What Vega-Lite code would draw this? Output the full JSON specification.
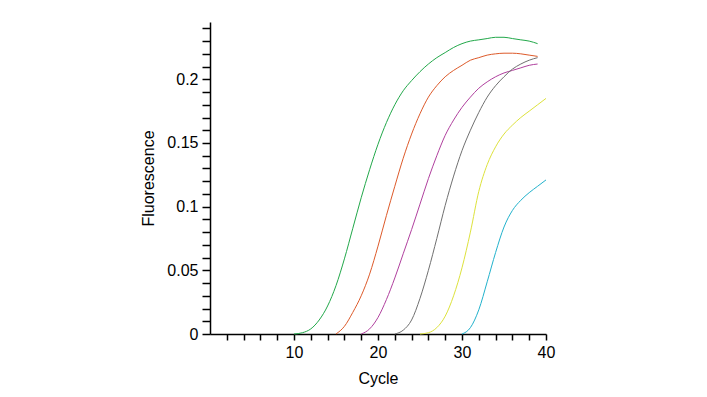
{
  "$schema": "https://vega.github.io/schema/vega-lite/v6.json",
  "width": 336,
  "height": 312,
  "autosize": {"type": "none"},
  "padding": {"left": 210, "top": 22, "right": 161, "bottom": 63},
  "background": "white",
  "config": {"view": {"stroke": null}, "font": "Liberation Sans"},
  "data": {"values": [
    {"s":"A","c":10,"f":0},{"s":"A","c":11,"f":0.001},{"s":"A","c":12,"f":0.004},{"s":"A","c":13,"f":0.011},{"s":"A","c":14,"f":0.022},{"s":"A","c":15,"f":0.038},{"s":"A","c":16,"f":0.059},{"s":"A","c":17,"f":0.083},{"s":"A","c":18,"f":0.107},{"s":"A","c":19,"f":0.129},{"s":"A","c":20,"f":0.149},{"s":"A","c":21,"f":0.166},{"s":"A","c":22,"f":0.18},{"s":"A","c":23,"f":0.191},{"s":"A","c":24,"f":0.199},{"s":"A","c":25,"f":0.206},{"s":"A","c":26,"f":0.212},{"s":"A","c":27,"f":0.217},{"s":"A","c":28,"f":0.221},{"s":"A","c":29,"f":0.225},{"s":"A","c":30,"f":0.228},{"s":"A","c":31,"f":0.23},{"s":"A","c":32,"f":0.231},{"s":"A","c":33,"f":0.232},{"s":"A","c":34,"f":0.233},{"s":"A","c":35,"f":0.233},{"s":"A","c":36,"f":0.232},{"s":"A","c":37,"f":0.231},{"s":"A","c":38,"f":0.23},{"s":"A","c":39,"f":0.228},
    {"s":"B","c":15,"f":0},{"s":"B","c":16,"f":0.006},{"s":"B","c":17,"f":0.017},{"s":"B","c":18,"f":0.03},{"s":"B","c":19,"f":0.047},{"s":"B","c":20,"f":0.069},{"s":"B","c":21,"f":0.093},{"s":"B","c":22,"f":0.116},{"s":"B","c":23,"f":0.138},{"s":"B","c":24,"f":0.157},{"s":"B","c":25,"f":0.173},{"s":"B","c":26,"f":0.186},{"s":"B","c":27,"f":0.195},{"s":"B","c":28,"f":0.202},{"s":"B","c":29,"f":0.207},{"s":"B","c":30,"f":0.211},{"s":"B","c":31,"f":0.215},{"s":"B","c":32,"f":0.217},{"s":"B","c":33,"f":0.219},{"s":"B","c":34,"f":0.22},{"s":"B","c":35,"f":0.2205},{"s":"B","c":36,"f":0.2205},{"s":"B","c":37,"f":0.22},{"s":"B","c":38,"f":0.219},{"s":"B","c":39,"f":0.218},
    {"s":"C","c":18,"f":0},{"s":"C","c":19,"f":0.004},{"s":"C","c":20,"f":0.013},{"s":"C","c":21,"f":0.027},{"s":"C","c":22,"f":0.044},{"s":"C","c":23,"f":0.063},{"s":"C","c":24,"f":0.082},{"s":"C","c":25,"f":0.102},{"s":"C","c":26,"f":0.122},{"s":"C","c":27,"f":0.14},{"s":"C","c":28,"f":0.156},{"s":"C","c":29,"f":0.168},{"s":"C","c":30,"f":0.178},{"s":"C","c":31,"f":0.186},{"s":"C","c":32,"f":0.193},{"s":"C","c":33,"f":0.198},{"s":"C","c":34,"f":0.202},{"s":"C","c":35,"f":0.205},{"s":"C","c":36,"f":0.207},{"s":"C","c":37,"f":0.209},{"s":"C","c":38,"f":0.211},{"s":"C","c":39,"f":0.212},
    {"s":"D","c":22,"f":0},{"s":"D","c":23,"f":0.003},{"s":"D","c":24,"f":0.011},{"s":"D","c":25,"f":0.028},{"s":"D","c":26,"f":0.05},{"s":"D","c":27,"f":0.075},{"s":"D","c":28,"f":0.101},{"s":"D","c":29,"f":0.124},{"s":"D","c":30,"f":0.144},{"s":"D","c":31,"f":0.16},{"s":"D","c":32,"f":0.174},{"s":"D","c":33,"f":0.186},{"s":"D","c":34,"f":0.195},{"s":"D","c":35,"f":0.202},{"s":"D","c":36,"f":0.208},{"s":"D","c":37,"f":0.212},{"s":"D","c":38,"f":0.215},{"s":"D","c":39,"f":0.217},
    {"s":"E","c":25,"f":0},{"s":"E","c":26,"f":0.001},{"s":"E","c":27,"f":0.005},{"s":"E","c":28,"f":0.014},{"s":"E","c":29,"f":0.03},{"s":"E","c":30,"f":0.052},{"s":"E","c":31,"f":0.08},{"s":"E","c":32,"f":0.112},{"s":"E","c":33,"f":0.133},{"s":"E","c":34,"f":0.147},{"s":"E","c":35,"f":0.157},{"s":"E","c":36,"f":0.164},{"s":"E","c":37,"f":0.17},{"s":"E","c":38,"f":0.175},{"s":"E","c":39,"f":0.18},{"s":"E","c":40,"f":0.185},
    {"s":"F","c":30,"f":0},{"s":"F","c":31,"f":0.005},{"s":"F","c":32,"f":0.019},{"s":"F","c":33,"f":0.041},{"s":"F","c":34,"f":0.064},{"s":"F","c":35,"f":0.084},{"s":"F","c":36,"f":0.097},{"s":"F","c":37,"f":0.105},{"s":"F","c":38,"f":0.111},{"s":"F","c":39,"f":0.116},{"s":"F","c":40,"f":0.121}
  ]},
  "mark": {"type": "line", "strokeWidth": 1, "interpolate": "monotone", "clip": false},
  "encoding": {
    "x": {
      "field": "c", "type": "quantitative",
      "scale": {"domain": [0, 40], "nice": false, "zero": false},
      "axis": {
        "title": "Cycle", "titleFontSize": 16, "titleFontWeight": "normal", "titleColor": "black", "titlePadding": 10,
        "values": [2,4,6,8,10,12,14,16,18,20,22,24,26,28,30,32,34,36,38,40],
        "labelExpr": "datum.value % 10 == 0 ? datum.label : ''",
        "labelOverlap": false, "labelFontSize": 16, "labelColor": "black", "labelPadding": 4,
        "grid": false, "domainColor": "black", "domainWidth": 1.5, "tickColor": "black", "tickWidth": 1.5, "tickSize": 6, "labelFlush": false
      }
    },
    "y": {
      "field": "f", "type": "quantitative",
      "scale": {"domain": [0, 0.245], "nice": false},
      "axis": {
        "title": "Fluorescence", "titleFontSize": 16, "titleFontWeight": "normal", "titleColor": "black", "titlePadding": 10,
        "values": [0,0.01,0.02,0.03,0.04,0.05,0.06,0.07,0.08,0.09,0.1,0.11,0.12,0.13,0.14,0.15,0.16,0.17,0.18,0.19,0.2,0.21,0.22,0.23,0.24],
        "labelExpr": "round(datum.value*100) % 5 == 0 ? format(datum.value, '~g') : ''",
        "labelOverlap": false, "labelFontSize": 16, "labelColor": "black", "labelPadding": 4,
        "grid": false, "domainColor": "black", "domainWidth": 1.5, "tickColor": "black", "tickWidth": 1.5, "tickSize": 8
      }
    },
    "color": {
      "field": "s", "type": "nominal", "legend": null,
      "scale": {"domain": ["A","B","C","D","E","F"], "range": ["#22a84a","#dd5a2a","#b0409e","#707070","#dde23c","#22b2cc"]}
    }
  }
}
